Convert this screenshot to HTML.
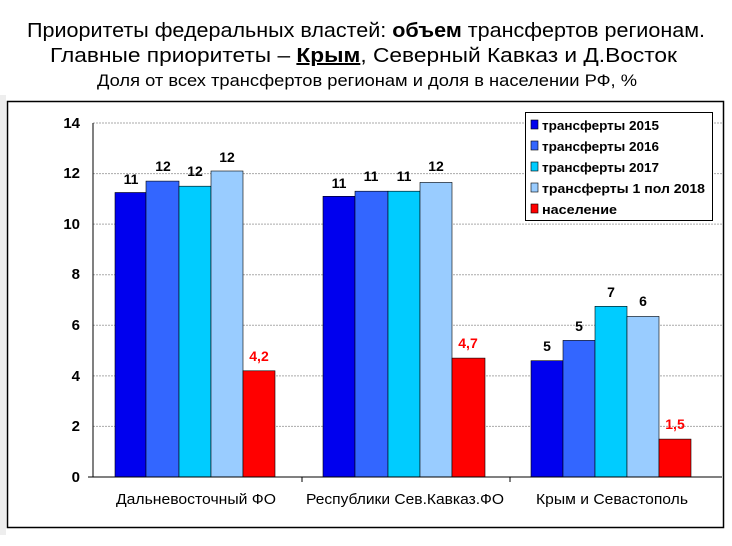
<!DOCTYPE html>
<html><head><meta charset="utf-8"><style>
body{margin:0;background:#fff;}
svg{display:block;font-family:"Liberation Sans",Arial,sans-serif;}
</style></head><body>
<svg width="732" height="546" viewBox="0 0 732 546" xmlns="http://www.w3.org/2000/svg">
<rect x="0" y="0" width="732" height="546" fill="#fff"/>
<rect x="0" y="95" width="6" height="440" fill="#eee"/>
<text x="27" y="37" font-size="20" textLength="678" lengthAdjust="spacingAndGlyphs">Приоритеты федеральных властей: <tspan font-weight="bold">объем</tspan> трансфертов регионам.</text>
<text x="50" y="62" font-size="20" textLength="627" lengthAdjust="spacingAndGlyphs">Главные приоритеты – <tspan font-weight="bold" text-decoration="underline">Крым</tspan>, Северный Кавказ и Д.Восток</text>
<text x="97" y="86" font-size="17" textLength="540" lengthAdjust="spacingAndGlyphs">Доля от всех трансфертов регионам и доля в населении РФ, %</text>
<rect x="7.5" y="101.5" width="716" height="426" fill="#fff" stroke="#000" stroke-width="1.5"/>
<g stroke="#aaa" stroke-width="1" stroke-dasharray="2,1">
<line x1="93" y1="426.4" x2="722" y2="426.4"/>
<line x1="93" y1="375.9" x2="722" y2="375.9"/>
<line x1="93" y1="325.3" x2="722" y2="325.3"/>
<line x1="93" y1="274.7" x2="722" y2="274.7"/>
<line x1="93" y1="224.1" x2="722" y2="224.1"/>
<line x1="93" y1="173.6" x2="722" y2="173.6"/>
<line x1="93" y1="123" x2="722" y2="123"/>
</g>
<g font-size="15" font-weight="bold" text-anchor="end">
<text x="80" y="482">0</text><text x="80" y="431">2</text><text x="80" y="381">4</text><text x="80" y="330">6</text><text x="80" y="279">8</text><text x="80" y="229">10</text><text x="80" y="178">12</text><text x="80" y="128">14</text>
</g>
<g stroke="#000" stroke-width="0.6">
<rect x="115" y="192.5" width="31" height="284.5" fill="#0000ee"/>
<rect x="146" y="181.1" width="33" height="295.9" fill="#3366ff"/>
<rect x="179" y="186.2" width="32" height="290.8" fill="#00ccff"/>
<rect x="211" y="171" width="32" height="306" fill="#99ccff"/>
<rect x="243" y="370.8" width="32" height="106.2" fill="#ff0000"/>
<rect x="323" y="196.3" width="32" height="280.7" fill="#0000ee"/>
<rect x="355" y="191.2" width="33" height="285.8" fill="#3366ff"/>
<rect x="388" y="191.2" width="32" height="285.8" fill="#00ccff"/>
<rect x="420" y="182.4" width="32" height="294.6" fill="#99ccff"/>
<rect x="452" y="358.1" width="33" height="118.9" fill="#ff0000"/>
<rect x="531" y="360.7" width="32" height="116.3" fill="#0000ee"/>
<rect x="563" y="340.4" width="32" height="136.6" fill="#3366ff"/>
<rect x="595" y="306.3" width="32" height="170.7" fill="#00ccff"/>
<rect x="627" y="316.4" width="32" height="160.6" fill="#99ccff"/>
<rect x="659" y="439.1" width="32" height="37.9" fill="#ff0000"/>
</g>
<line x1="93" y1="123" x2="93" y2="477" stroke="#000"/>
<line x1="88" y1="477" x2="722" y2="477" stroke="#000"/>
<g stroke="#000"><line x1="302" y1="477" x2="302" y2="482"/><line x1="510" y1="477" x2="510" y2="482"/></g>
<g font-size="14" font-weight="bold" text-anchor="middle">
<text x="131" y="184">11</text><text x="163" y="171">12</text><text x="195" y="176">12</text><text x="227" y="162">12</text>
<text x="339" y="188">11</text><text x="371" y="181">11</text><text x="404" y="181">11</text><text x="436" y="171">12</text>
<text x="547" y="351">5</text><text x="579" y="331">5</text><text x="611" y="297">7</text><text x="643" y="306">6</text>
<text x="259" y="361" fill="#f00">4,2</text><text x="468" y="348" fill="#f00">4,7</text><text x="675" y="429" fill="#f00">1,5</text>
</g>
<g font-size="15">
<text x="116" y="504" textLength="160" lengthAdjust="spacingAndGlyphs">Дальневосточный ФО</text>
<text x="306" y="504" textLength="198" lengthAdjust="spacingAndGlyphs">Республики Сев.Кавказ.ФО</text>
<text x="536" y="504" textLength="152" lengthAdjust="spacingAndGlyphs">Крым и Севастополь</text>
</g>
<rect x="525.5" y="112.5" width="187" height="108" fill="#fff" stroke="#000"/>
<g stroke="#000" stroke-width="0.6">
<rect x="531" y="120" width="7" height="9" fill="#0000ee"/>
<rect x="531" y="141" width="7" height="9" fill="#3366ff"/>
<rect x="531" y="162" width="7" height="9" fill="#00ccff"/>
<rect x="531" y="183" width="7" height="9" fill="#99ccff"/>
<rect x="531" y="204" width="7" height="9" fill="#ff0000"/>
</g>
<g font-size="13" font-weight="bold">
<text x="542" y="130" textLength="117" lengthAdjust="spacingAndGlyphs">трансферты 2015</text>
<text x="542" y="151" textLength="117" lengthAdjust="spacingAndGlyphs">трансферты 2016</text>
<text x="542" y="172" textLength="117" lengthAdjust="spacingAndGlyphs">трансферты 2017</text>
<text x="542" y="193" textLength="163" lengthAdjust="spacingAndGlyphs">трансферты 1 пол 2018</text>
<text x="542" y="214" textLength="75" lengthAdjust="spacingAndGlyphs">население</text>
</g>
</svg>
</body></html>
